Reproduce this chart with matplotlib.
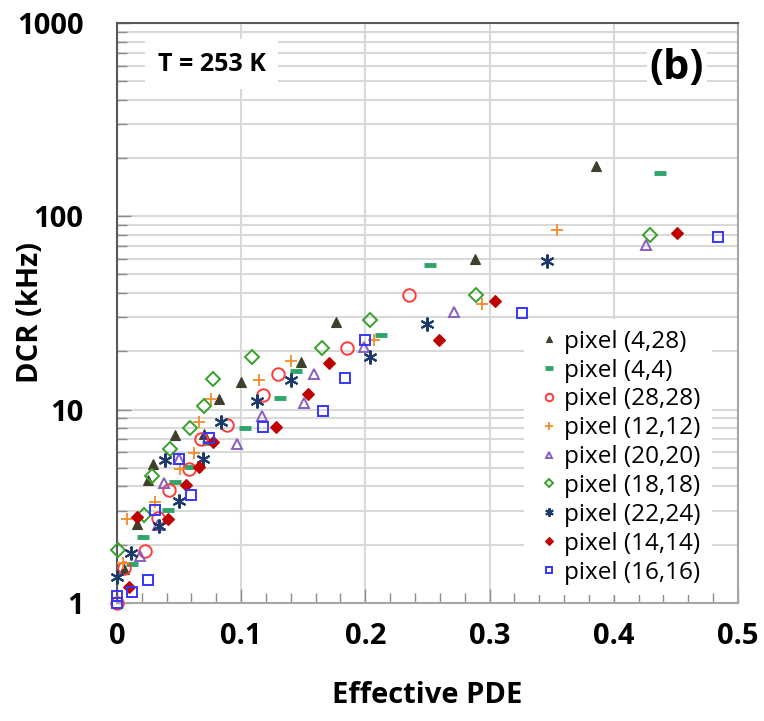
import matplotlib.pyplot as plt
from matplotlib.ticker import FixedLocator, LogLocator, NullFormatter, FixedFormatter

plt.rcParams['font.family'] = ['Open Sans', 'DejaVu Sans']

# data (effective PDE, DCR in kHz)
labels = ['pixel (4,28)', 'pixel (4,4)', 'pixel (28,28)', 'pixel (12,12)',
          'pixel (20,20)', 'pixel (18,18)', 'pixel (22,24)', 'pixel (14,14)',
          'pixel (16,16)']

x_4_28 = [0.006, 0.016, 0.025, 0.029, 0.047, 0.070, 0.082, 0.100, 0.148, 0.176, 0.288, 0.386]
y_4_28 = [1.49, 2.56, 4.31, 5.2, 7.4, 7.48, 11.4, 13.9, 17.6, 28.3, 60.4, 182]

x_4_4 = [0.012, 0.021, 0.041, 0.047, 0.058, 0.073, 0.103, 0.131, 0.144, 0.213, 0.252, 0.437]
y_4_4 = [1.59, 2.19, 3.02, 4.24, 5.04, 6.70, 8.01, 11.5, 15.9, 24.3, 56.3, 168]

x_28_28 = [0.0, 0.006, 0.023, 0.033, 0.042, 0.058, 0.068, 0.089, 0.118, 0.130, 0.185, 0.235]
y_28_28 = [1.0, 1.52, 1.86, 2.73, 3.84, 4.95, 7.08, 8.3, 11.9, 15.2, 20.9, 39.2]

x_12_12 = [0.005, 0.008, 0.031, 0.051, 0.062, 0.066, 0.076, 0.114, 0.140, 0.207, 0.294, 0.354]
y_12_12 = [1.6, 2.72, 3.34, 4.95, 5.97, 8.64, 11.3, 14.2, 17.9, 22.9, 35.1, 85.1]

x_20_20 = [0.019, 0.033, 0.038, 0.050, 0.097, 0.117, 0.151, 0.159, 0.199, 0.271, 0.426]
y_20_20 = [1.75, 2.52, 4.19, 5.54, 6.65, 9.31, 10.8, 15.2, 21.0, 31.8, 70.9]

x_18_18 = [0.001, 0.022, 0.028, 0.043, 0.059, 0.070, 0.077, 0.109, 0.165, 0.204, 0.289, 0.429]
y_18_18 = [1.88, 2.86, 4.54, 6.24, 8.04, 10.4, 14.4, 18.6, 20.9, 29.1, 39.3, 80.4]

x_22_24 = [0.000, 0.011, 0.034, 0.050, 0.039, 0.069, 0.084, 0.113, 0.140, 0.204, 0.250, 0.346]
y_22_24 = [1.36, 1.82, 2.49, 3.36, 5.45, 5.54, 8.57, 11.1, 14.3, 18.7, 27.8, 58.6]

x_14_14 = [0.010, 0.016, 0.041, 0.056, 0.066, 0.077, 0.128, 0.154, 0.171, 0.259, 0.304, 0.451]
y_14_14 = [1.2, 2.78, 2.72, 4.05, 5.07, 6.83, 8.13, 12.1, 17.5, 23.0, 36.6, 81.8]

x_16_16 = [0.0, 0.0, 0.012, 0.025, 0.031, 0.060, 0.050, 0.074, 0.118, 0.166, 0.184, 0.200, 0.326, 0.484]
y_16_16 = [1.0, 1.09, 1.14, 1.31, 3.03, 3.62, 5.54, 7.14, 8.16, 9.84, 14.5, 22.9, 31.5, 78]

series = [
    (x_4_28, y_4_28, dict(marker='^', ms=7.5, color='#3f3f2c', mfc='#3f3f2c', mew=0.8)),
    (x_4_4, y_4_4, dict(marker='_', ms=9, color='#2ea66a', mew=3.5)),
    (x_28_28, y_28_28, dict(marker='o', ms=9, color='#ff3b3b', mfc='none', mew=1.4)),
    (x_12_12, y_12_12, dict(marker='+', ms=9, color='#f58a2a', mew=1.3)),
    (x_20_20, y_20_20, dict(marker='^', ms=7.5, color='#8a5ec0', mfc='none', mew=1.4)),
    (x_18_18, y_18_18, dict(marker='D', ms=7.5, color='#37a02a', mfc='none', mew=1.4)),
    (x_22_24, y_22_24, dict(marker=(6, 2, 0), ms=10, color='#1d3a6c', mew=1.5)),
    (x_14_14, y_14_14, dict(marker='D', ms=6.5, color='#c00000', mfc='#c00000', mew=0.8)),
    (x_16_16, y_16_16, dict(marker='s', ms=7.5, color='#3636ff', mfc='none', mew=1.4)),
]

fig = plt.figure(figsize=(7.64, 7.21), dpi=100)
ax = fig.add_axes([0.153, 0.164, 0.813, 0.804])

for (xs, ys, style), lab in zip(series, labels):
    ax.plot(xs, ys, ls='none', label=lab, zorder=3, clip_on=False, **style)

ax.set_yscale('log')
ax.set_xlim(0, 0.5)
ax.set_ylim(1, 1000)

ax.xaxis.set_major_locator(FixedLocator([0, 0.1, 0.2, 0.3, 0.4, 0.5]))
ax.xaxis.set_major_formatter(FixedFormatter(['0', '0.1', '0.2', '0.3', '0.4', '0.5']))
ax.xaxis.set_minor_locator(FixedLocator([i * 0.02 for i in range(26)]))
ax.yaxis.set_major_locator(FixedLocator([1, 10, 100, 1000]))
ax.yaxis.set_major_formatter(FixedFormatter(['1', '10', '100', '1000']))
ax.yaxis.set_minor_locator(LogLocator(base=10, subs=range(2, 10)))
ax.yaxis.set_minor_formatter(NullFormatter())

ax.grid(True, which='major', axis='x', color='#d9d9d9', lw=1.5, zorder=0)
ax.grid(True, which='both', axis='y', color='#d9d9d9', lw=1.5, zorder=0)
ax.set_axisbelow(True)

ax.tick_params(axis='x', which='major', direction='in', length=10, width=1, color='#8c8c8c',
               pad=14, labelsize=21)
ax.tick_params(axis='x', which='minor', direction='in', length=7, width=1, color='#8c8c8c')
ax.tick_params(axis='y', which='major', direction='in', length=10, width=1, color='#8c8c8c',
               pad=24, labelsize=21)
ax.tick_params(axis='y', which='minor', direction='in', length=7, width=1, color='#8c8c8c')
for lbl in ax.get_xticklabels() + ax.get_yticklabels():
    lbl.set_fontweight('bold')

for side in ['left', 'top']:
    ax.spines[side].set_color('#595959')
    ax.spines[side].set_linewidth(1.5)
for side in ['right', 'bottom']:
    ax.spines[side].set_color('#a6a6a6')
    ax.spines[side].set_linewidth(1.5)

ax.set_xlabel('Effective PDE', fontsize=21, fontweight='bold')
ax.xaxis.set_label_coords(0.5, -0.135)
ax.set_ylabel('DCR (kHz)', fontsize=21, fontweight='bold')
ax.yaxis.set_label_coords(-0.116, 0.5)

ax.text(0.066, 0.929, 'T = 253 K', transform=ax.transAxes, fontsize=18, fontweight='bold',
        va='center', ha='left',
        bbox=dict(facecolor='white', edgecolor='none', pad=9), zorder=4)
ax.text(0.858, 0.922, '(b)', transform=ax.transAxes, fontsize=30, fontweight='bold',
        va='center', ha='left',
        bbox=dict(facecolor='white', edgecolor='none', pad=2), zorder=4)

leg = ax.legend(loc='upper left', bbox_to_anchor=(0.656, 0.49), fontsize=17.5,
                frameon=True, fancybox=False, framealpha=1, edgecolor='none',
                markerscale=0.6, handlelength=1.1, handletextpad=0.1,
                labelspacing=0.2, borderpad=0.45, borderaxespad=0)
leg.set_zorder(5)

fig.savefig('out.png', dpi=100)
